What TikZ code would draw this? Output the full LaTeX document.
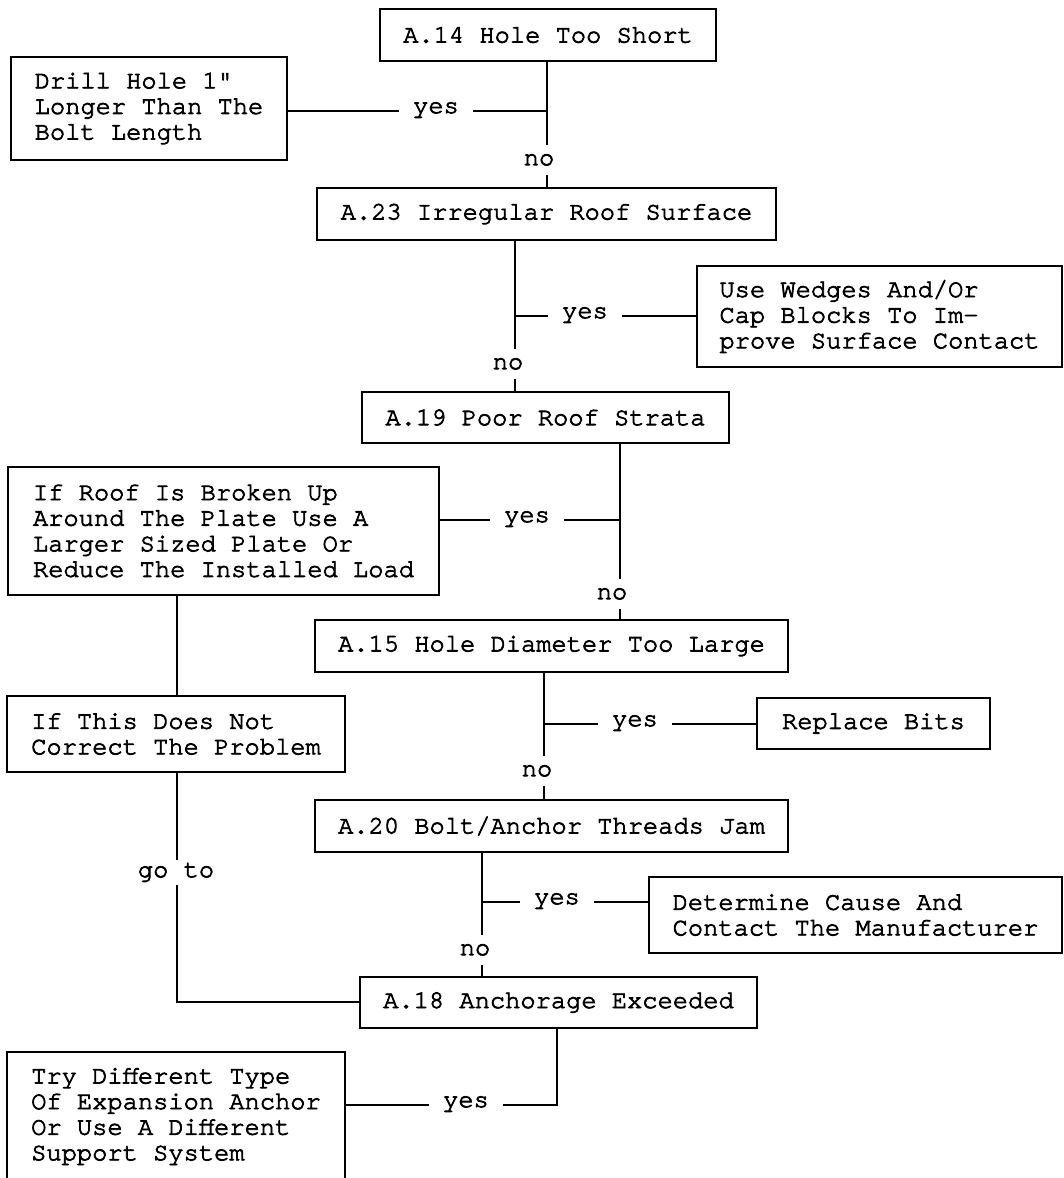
\documentclass[tikz,border=0pt]{standalone}
\usepackage{fontspec}
\newfontfamily\monofam{texgyrecursor-regular.otf}[FakeBold=3]
\newcommand\diagfont{\monofam\fontsize{25.4}{25.6}\selectfont}
\begin{document}
\begin{tikzpicture}[x=1pt,y=-1pt,
  box/.style={draw, line width=2pt, inner sep=0pt, font=\diagfont, align=left},
  lbl/.style={font=\diagfont, inner xsep=14pt, inner ysep=9pt, anchor=mid},
  conn/.style={line width=1.6pt},
  heavy/.style={line width=2.8pt}]
\useasboundingbox (0,0) rectangle (1064,1178);
\clip (0,0) rectangle (1064,1178);
\fill[white] (0,0) rectangle (1064,1178);

% boxes
\node[box, minimum width=336pt, minimum height=52pt] (a14) at (548,35) {A.14 Hole Too Short};
\node[box, minimum width=276pt, minimum height=103pt] (drill) at (149,108.5) {Drill Hole 1"\\Longer Than The\\Bolt Length};
\node[box, minimum width=459pt, minimum height=52pt] (a23) at (546.5,214) {A.23 Irregular Roof Surface};
\node[box, minimum width=365pt, minimum height=101pt] (wedge) at (879.5,316.5) {Use Wedges And/Or\\Cap Blocks To Im-\\prove Surface Contact};
\node[box, minimum width=367pt, minimum height=51pt] (a19) at (545.5,417.5) {A.19 Poor Roof Strata};
\node[box, minimum width=431pt, minimum height=128pt] (roof) at (223.5,531) {If Roof Is Broken Up\\Around The Plate Use A\\Larger Sized Plate Or\\Reduce The Installed Load};
\node[box, minimum width=473pt, minimum height=52pt] (a15) at (551.5,646) {A.15 Hole Diameter Too Large};
\node[box, minimum width=233pt, minimum height=51pt] (bits) at (873.5,723.5) {Replace Bits};
\node[box, minimum width=338pt, minimum height=76pt] (this) at (176,734) {If This Does Not\\Correct The Problem};
\node[box, minimum width=473pt, minimum height=52pt] (a20) at (551.5,826) {A.20 Bolt/Anchor Threads Jam};
\node[box, minimum width=413pt, minimum height=76pt] (det) at (855.5,915) {Determine Cause And\\Contact The Manufacturer};
\node[box, minimum width=397pt, minimum height=51pt] (a18) at (558.5,1002.5) {A.18 Anchorage Exceeded};
\node[box, minimum width=338pt, minimum height=129pt] (try) at (176,1116.5) {Try Different Type\\Of Expansion Anchor\\Or Use A Different\\Support System};

% junctions
\coordinate (j1) at (547,111);
\coordinate (j2) at (515,316);
\coordinate (j3) at (620,520);
\coordinate (j4) at (544,724);
\coordinate (j5) at (482,902);
\coordinate (j6) at (557,1105);
\coordinate (c1) at (177,1002);

% labels
\node[lbl] (yes1) at (436,111) {yes};
\node[lbl] (no1) at (539,163) {no};
\node[lbl] (yes2) at (585,316) {yes};
\node[lbl] (no2) at (508,367) {no};
\node[lbl] (yes3) at (527,520) {yes};
\node[lbl] (no3) at (612,597) {no};
\node[lbl] (yes4) at (635,724) {yes};
\node[lbl] (no4) at (537,774) {no};
\node[lbl] (yes5) at (557,902) {yes};
\node[lbl] (no5) at (475,953) {no};
\node[lbl] (yes6) at (466,1105) {yes};
\node[lbl, inner ysep=3pt] (goto) at (176,875) {go to};

% A.14
\draw[conn] (a14.south -| j1) -- (no1.north -| j1);
\draw[conn] (no1.south -| j1) -- (a23.north -| j1);
\draw[heavy] (j1) -- (yes1.mid east);
\draw[conn] (yes1.mid west) -- (drill.east |- j1);
% A.23
\draw[conn] (a23.south -| j2) -- (no2.north -| j2);
\draw[conn] (no2.south -| j2) -- (a19.north -| j2);
\draw[heavy] (j2) -- (yes2.mid west);
\draw[conn] (yes2.mid east) -- (wedge.west |- j2);
% A.19
\draw[conn] (a19.south -| j3) -- (no3.north -| j3);
\draw[conn] (no3.south -| j3) -- (a15.north -| j3);
\draw[conn] (j3) -- (yes3.mid east);
\draw[heavy] (yes3.mid west) -- (roof.east |- j3);
% roof branch
\draw[conn] (roof.south -| c1) -- (this.north -| c1);
\draw[conn] (this.south -| c1) -- (goto.north -| c1);
\draw[conn] (goto.south -| c1) -- (c1) -- (a18.west |- c1);
% A.15
\draw[conn] (a15.south -| j4) -- (no4.north -| j4);
\draw[conn] (no4.south -| j4) -- (a20.north -| j4);
\draw[heavy] (j4) -- (yes4.mid west);
\draw[conn] (yes4.mid east) -- (bits.west |- j4);
% A.20
\draw[conn] (a20.south -| j5) -- (no5.north -| j5);
\draw[conn] (no5.south -| j5) -- (a18.north -| j5);
\draw[conn] (j5) -- (yes5.mid west);
\draw[conn] (yes5.mid east) -- (det.west |- j5);
% A.18
\draw[conn] (a18.south -| j6) -- (j6) -- (yes6.mid east);
\draw[heavy] (yes6.mid west) -- (try.east |- j6);
\end{tikzpicture}
\end{document}
